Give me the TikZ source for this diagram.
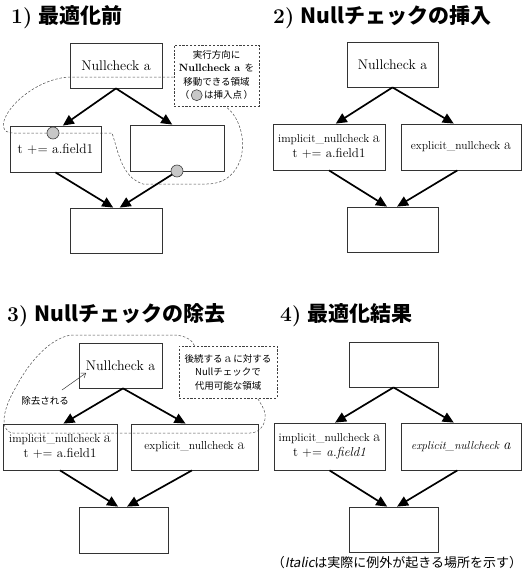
\documentclass[tikz,border=0pt]{standalone}
\usepackage{fontspec}
\newfontfamily\jp{Noto Sans CJK JP}
\newfontfamily\jpit[FakeSlant=0.2]{Noto Sans CJK JP}
\usetikzlibrary{arrows.meta,calc}
\newcommand\setfs[2]{\fontsize{#1}{#2}\selectfont}
\tikzset{
  box/.style={draw=black!80, line width=0.8pt, rectangle, inner sep=0pt, align=center, font=\setfs{14}{16}},
  bx/.style 2 args={box, minimum width=#1pt, minimum height=#2pt},
  flow/.style={line width=1.7pt, -{Triangle[length=11pt,width=10pt]}},
  callout/.style={draw=black!75, line width=0.6pt, dash pattern=on 2.2pt off 1.6pt, align=center, inner sep=0pt, font=\jp\setfs{9.5}{13.5}},
  region/.style={draw=black!70, line width=0.5pt, dash pattern=on 2.5pt off 1.8pt},
  ins/.style={circle, draw=black!75, fill=black!22, line width=0.6pt, minimum size=12pt, inner sep=0pt},
  title/.style={anchor=west, inner sep=0pt, font=\setfs{21}{24}},
}
\begin{document}
\begin{tikzpicture}[x=1pt,y=-1pt]
\useasboundingbox (0,0) rectangle (529,578);

% titles
\node[title] (t1) at (11,17) {\textbf{1)} {\jp\bfseries 最適化前}};
\node[title] (t2) at (273,17) {\textbf{2)} {\jp\bfseries Nullチェックの挿入}};
\node[title] (t3) at (7,315) {\textbf{3)} {\jp\bfseries Nullチェックの除去}};
\node[title] (t4) at (280,315) {\textbf{4)} {\jp\bfseries 最適化結果}};

% ---------- panel 1 ----------
\node[callout, minimum width=85pt, minimum height=61pt] (c1) at (216.5,75.5)
  {実行方向に\\{\rmfamily\bfseries\setfs{10.5}{13.5}Nullcheck a}\ \ を\\移動できる領域\\（\,\tikz[baseline=-0.35em]\draw[fill=black!22,draw=black!75,line width=0.6pt] (0,0) circle[radius=5.5pt];\,は挿入点\,）};
\coordinate (r1s) at ($(c1.west)+(0,1.5)$);
\coordinate (r1e) at ($(c1.south west)!0.6!(c1.south east)$);
\draw[region] (r1s) -- (70,77) .. controls (45,78) and (20,95) .. (9,111)
  .. controls (0,124) and (2,133) .. (13,133) -- (112,133)
  .. controls (118,150) and (121,177) .. (143,184) -- (207,184)
  .. controls (238,184) and (248,152) .. (240,128)
  .. controls (237,118) and (231,110) .. (r1e);

\node[bx={92}{45}] (p1t) at (116,65.5) {Nullcheck a};
\node[bx={91}{46}, font=\setfs{13.5}{15}] (p1l) at (55.5,149) {t += a.field1};
\node[bx={94}{46}] (p1r) at (177,148) {};
\node[bx={92}{45}] (p1b) at (116,230.5) {};
\draw[flow] (p1t.south) -- ($(p1l.north west)!0.58!(p1l.north east)$);
\draw[flow] (p1t.south) -- ($(p1r.north west)!0.45!(p1r.north east)$);
\draw[flow] (p1l.south) -- ($(p1b.north west)!0.47!(p1b.north east)$);
\draw[flow] (p1r.south) -- ($(p1b.north west)!0.54!(p1b.north east)$);
\node[ins] (i1) at (53,133) {};
\node[ins] (i2) at (177,171) {};

% ---------- panel 2 ----------
\node[bx={91}{45}] (p2t) at (392.5,64.5) {Nullcheck a};
\node[bx={112}{46}] (p2l) at (329,147)
  {{\setfs{11.5}{13}implicit\_nullcheck {\setfs{15}{15}a}}\\[-1pt]{\setfs{13}{14}t += a.field1}};
\node[bx={120}{46}] (p2r) at (461,147) {\setfs{11.5}{13}explicit\_nullcheck {\setfs{15}{15}a}};
\node[bx={91}{45}] (p2b) at (392.5,229.5) {};
\draw[flow] (p2t.south) -- ($(p2l.north west)!0.56!(p2l.north east)$);
\draw[flow] (p2t.south) -- ($(p2r.north west)!0.44!(p2r.north east)$);
\draw[flow] (p2l.south) -- ($(p2b.north west)!0.44!(p2b.north east)$);
\draw[flow] ($(p2r.south west)!0.47!(p2r.south east)$) -- ($(p2b.north west)!0.55!(p2b.north east)$);

% ---------- panel 3 ----------
\node[callout, minimum width=98pt, minimum height=52pt] (c3) at (228,372)
  {後続する {\rmfamily\setfs{13}{13.5}a} に対する\\Nullチェックで\\代用可能な領域};
\coordinate (r3s) at ($(c3.north west)!0.16!(c3.north east)$);
\coordinate (r3e) at ($(c3.south west)!0.8!(c3.south east)$);
\draw[region] (r3s) .. controls (193,341) and (186,335) .. (173,335) -- (72,335)
  .. controls (52,337) and (30,360) .. (16,387)
  .. controls (5,405) and (-3,431) .. (13,433) -- (250,433)
  .. controls (262,433) and (268,420) .. (264,410)
  .. controls (262,405) and (259,401) .. (r3e);

\node[bx={83}{45}] (p3t) at (120.5,365.5) {Nullcheck a};
\node[bx={114}{46}] (p3l) at (60,447)
  {{\setfs{11.5}{13}implicit\_nullcheck {\setfs{15}{15}a}}\\[-1pt]{\setfs{13}{14}t += a.field1}};
\node[bx={127}{46}] (p3r) at (194.5,447) {\setfs{11.5}{13}explicit\_nullcheck {\setfs{15}{15}a}};
\node[bx={89}{46}] (p3b) at (123.5,530) {};
\draw[flow] ($(p3t.south west)!0.53!(p3t.south east)$) -- ($(p3l.north west)!0.53!(p3l.north east)$);
\draw[flow] ($(p3t.south west)!0.53!(p3t.south east)$) -- ($(p3r.north west)!0.43!(p3r.north east)$);
\draw[flow] (p3l.south) -- ($(p3b.north west)!0.44!(p3b.north east)$);
\draw[flow] ($(p3r.south west)!0.48!(p3r.south east)$) -- ($(p3b.north west)!0.54!(p3b.north east)$);

\node[font=\jp\setfs{9.5}{10}, inner sep=0pt] (rm) at (45,401) {除去される};
\coordinate (rmA) at (62,390);
\coordinate (rmB) at (86,373);
\draw[line width=0.5pt, draw=black!80, -{Straight Barb[length=4pt,width=6pt]}] (rmA) -- (rmB);

% ---------- panel 4 ----------
\node[bx={89}{45}] (p4t) at (393.5,364.5) {};
\node[bx={111}{47}] (p4l) at (329.5,446.5)
  {{\setfs{11.5}{13}implicit\_nullcheck {\setfs{15}{15}a}}\\[-1pt]{\setfs{13}{14}t += \textit{a.field1}}};
\node[bx={120}{47}] (p4r) at (461,446.5) {\setfs{11.5}{13}\textit{explicit\_nullcheck {\setfs{15}{15}a}}};
\node[bx={89}{45}] (p4b) at (393.5,529.5) {};
\draw[flow] (p4t.south) -- ($(p4l.north west)!0.55!(p4l.north east)$);
\draw[flow] (p4t.south) -- ($(p4r.north west)!0.44!(p4r.north east)$);
\draw[flow] (p4l.south) -- ($(p4b.north west)!0.43!(p4b.north east)$);
\draw[flow] ($(p4r.south west)!0.47!(p4r.south east)$) -- ($(p4b.north west)!0.54!(p4b.north east)$);

\node[font=\jp\setfs{13}{14}, inner sep=0pt] (cap) at (397,563) {（{\jpit Italic}は実際に例外が起きる場所を示す）};
\end{tikzpicture}
\end{document}
